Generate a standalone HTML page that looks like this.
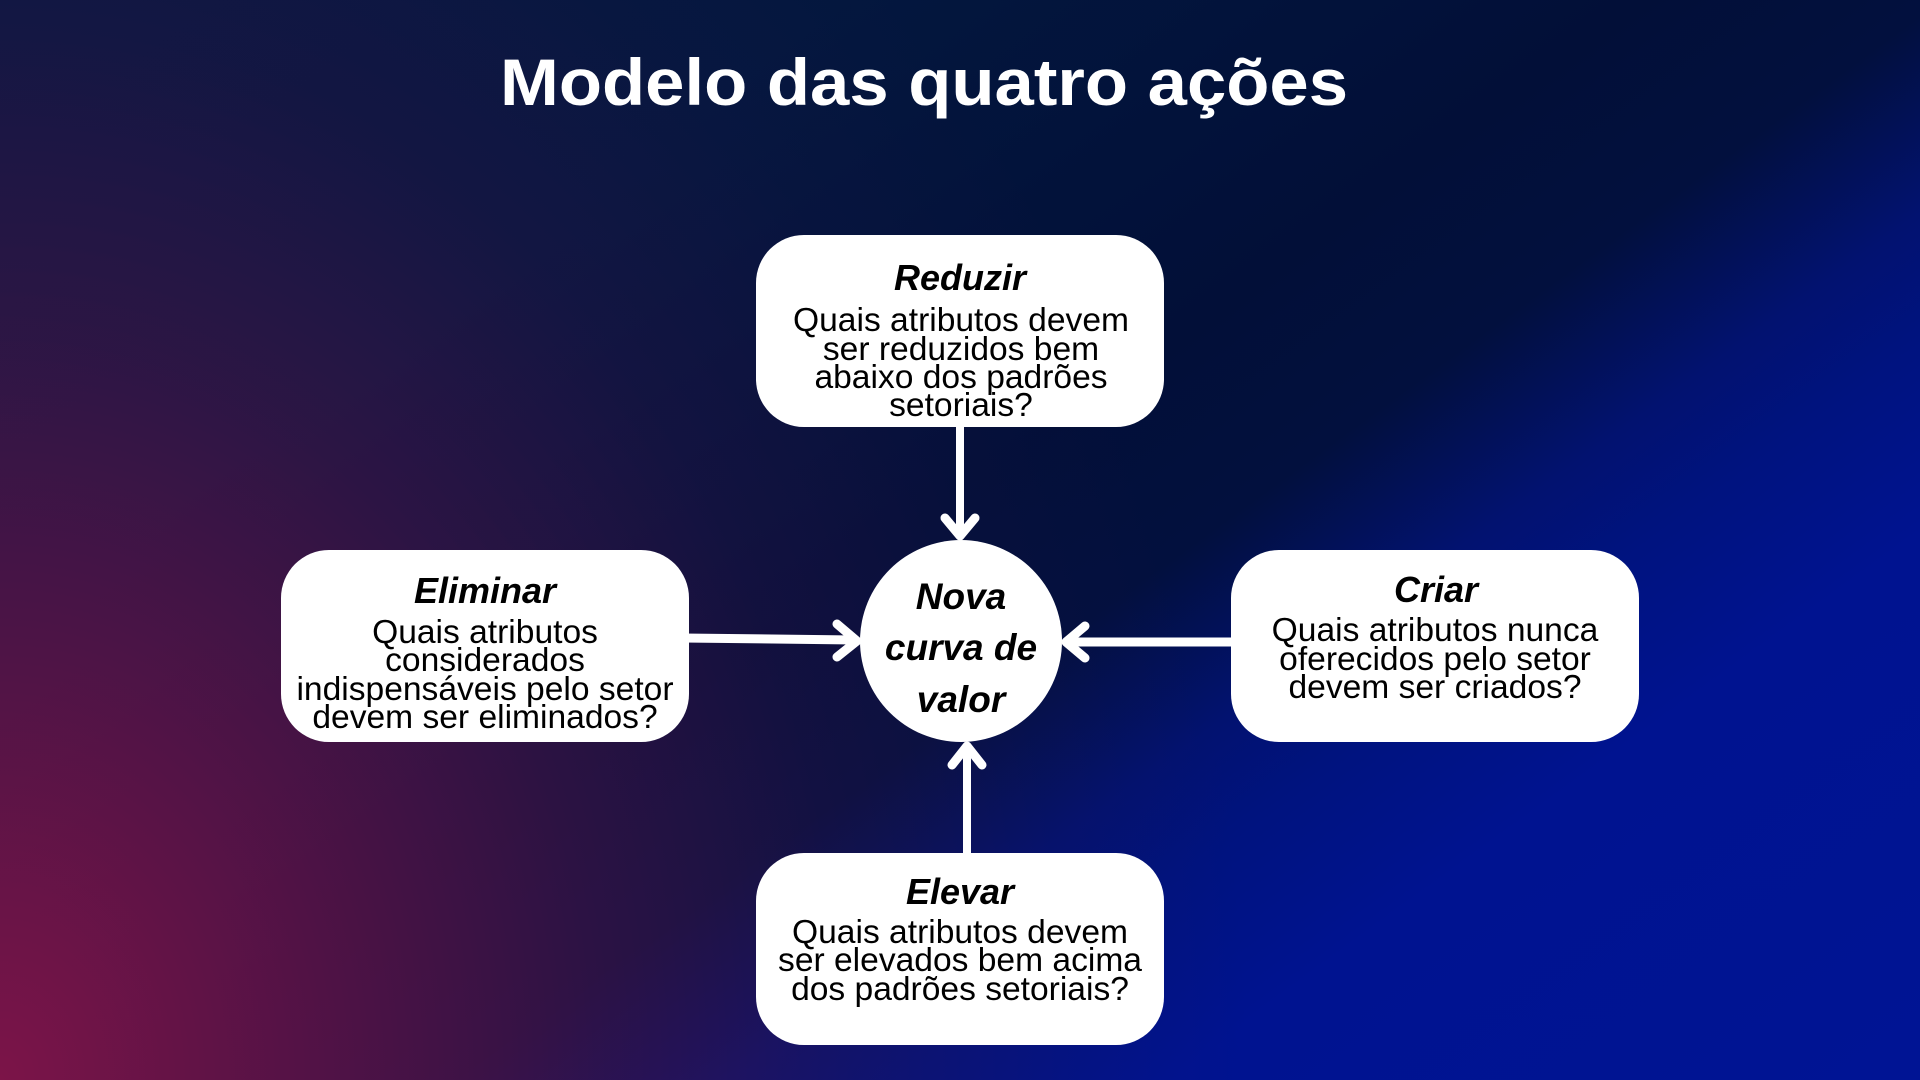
<!DOCTYPE html>
<html>
<head>
<meta charset="utf-8">
<style>
  html, body { margin: 0; padding: 0; }
  body { width: 1920px; height: 1080px; overflow: hidden; position: relative; }
  .bg {
    position: absolute; left: 0; top: 0; width: 1920px; height: 1080px;
    background:
      radial-gradient(ellipse 1250px 1550px at 0% 100%, rgba(124,20,72,1) 0%, rgba(100,19,72,0.82) 25%, rgba(78,20,74,0.55) 48%, rgba(55,20,76,0.3) 68%, rgba(40,20,78,0.12) 85%, rgba(30,20,80,0) 100%),
      linear-gradient(144deg, #04183f 0%, #03173e 25%, #020f38 48%, #02103e 57%, #021270 65%, #00137f 70%, #001390 78%, #001494 100%);
  }
  svg { position: absolute; left: 0; top: 0; }
  .t { font-family: "Liberation Sans", Arial, sans-serif; }
</style>
</head>
<body>
<div class="bg"></div>
<svg width="1920" height="1080" viewBox="0 0 1920 1080" xmlns="http://www.w3.org/2000/svg">
  <!-- Title -->
  <text class="t" x="500" y="105" font-size="66" font-weight="700" fill="#ffffff" textLength="848" lengthAdjust="spacingAndGlyphs">Modelo das quatro ações</text>

  <!-- Connectors -->
  <g stroke="#ffffff" fill="none" stroke-linecap="round" stroke-linejoin="round">
    <!-- Reduzir -> center (down) -->
    <line x1="960" y1="420" x2="960" y2="534" stroke-width="8"/>
    <polyline points="945,518 960,536 975,518" stroke-width="9"/>
    <!-- Elevar -> center (up) -->
    <line x1="967" y1="860" x2="967" y2="748" stroke-width="8"/>
    <polyline points="952,765 967,746 982,765" stroke-width="9"/>
    <!-- Eliminar -> center (right) -->
    <line x1="682" y1="638" x2="855" y2="640" stroke-width="9"/>
    <polyline points="837,624 857,641 837,657" stroke-width="9"/>
    <!-- Criar -> center (left) -->
    <line x1="1238" y1="642" x2="1068" y2="642" stroke-width="9"/>
    <polyline points="1085,626 1066,642 1085,658" stroke-width="9"/>
  </g>

  <!-- Boxes -->
  <g fill="#ffffff">
    <rect x="756" y="235" width="408" height="192" rx="48" ry="48"/>
    <rect x="281" y="550" width="408" height="192" rx="48" ry="48"/>
    <rect x="1231" y="550" width="408" height="192" rx="48" ry="48"/>
    <rect x="756" y="853" width="408" height="192" rx="48" ry="48"/>
    <circle cx="961" cy="641" r="101"/>
  </g>

  <!-- Reduzir -->
  <g class="t" fill="#000000" text-anchor="middle">
    <text x="960" y="290" font-size="36" font-weight="700" font-style="italic">Reduzir</text>
    <text x="961" y="331" font-size="33.6">Quais atributos devem</text>
    <text x="961" y="360" font-size="33.6">ser reduzidos bem</text>
    <text x="961" y="388" font-size="33.6">abaixo dos padrões</text>
    <text x="961" y="416" font-size="33.6">setoriais?</text>
  </g>

  <!-- Eliminar -->
  <g class="t" fill="#000000" text-anchor="middle">
    <text x="485" y="603" font-size="36" font-weight="700" font-style="italic">Eliminar</text>
    <text x="485" y="643" font-size="33.6">Quais atributos</text>
    <text x="485" y="671" font-size="33.6">considerados</text>
    <text x="485" y="700" font-size="33.6">indispensáveis pelo setor</text>
    <text x="485" y="728" font-size="33.6">devem ser eliminados?</text>
  </g>

  <!-- Criar -->
  <g class="t" fill="#000000" text-anchor="middle">
    <text x="1436" y="602" font-size="36" font-weight="700" font-style="italic">Criar</text>
    <text x="1435" y="641" font-size="33.6">Quais atributos nunca</text>
    <text x="1435" y="670" font-size="33.6">oferecidos pelo setor</text>
    <text x="1435" y="698" font-size="33.6">devem ser criados?</text>
  </g>

  <!-- Elevar -->
  <g class="t" fill="#000000" text-anchor="middle">
    <text x="960" y="904" font-size="36" font-weight="700" font-style="italic">Elevar</text>
    <text x="960" y="943" font-size="33.6">Quais atributos devem</text>
    <text x="960" y="971" font-size="33.6">ser elevados bem acima</text>
    <text x="960" y="1000" font-size="33.6">dos padrões setoriais?</text>
  </g>

  <!-- Center -->
  <g class="t" fill="#000000" text-anchor="middle" font-weight="700" font-style="italic" font-size="37">
    <text x="961" y="609">Nova</text>
    <text x="961" y="660">curva de</text>
    <text x="961" y="712">valor</text>
  </g>
</svg>
</body>
</html>
